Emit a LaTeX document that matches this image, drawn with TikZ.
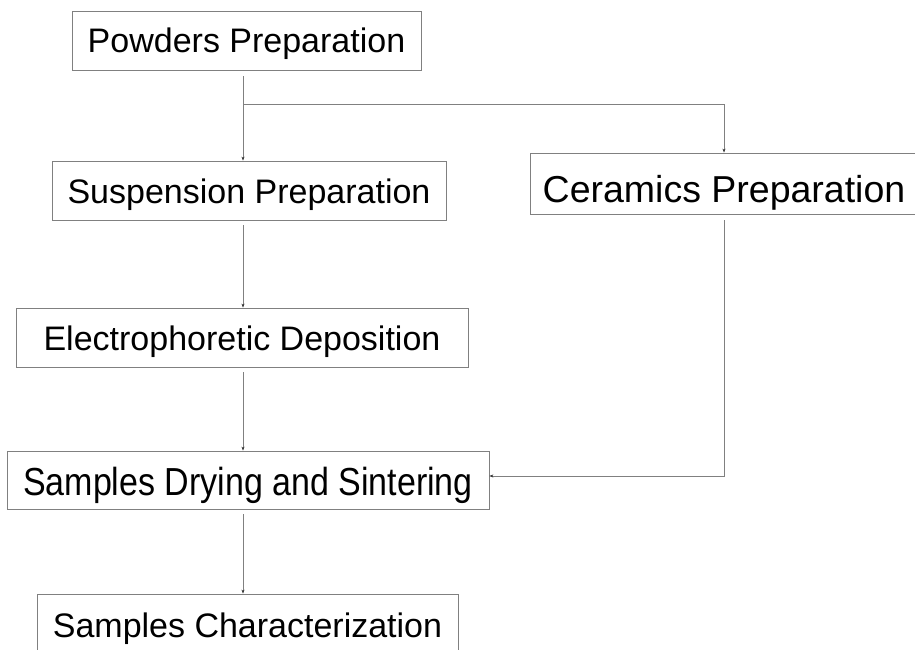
\documentclass[tikz,border=0pt]{standalone}
\usepackage{fontspec}
\setmainfont{Liberation Sans}
\usetikzlibrary{arrows.meta}
\begin{document}
\begin{tikzpicture}[x=1pt,y=-1pt,
  box/.style={draw=black!50, line width=0.8pt, minimum height=59pt, inner sep=0pt,
    text height=25pt, text depth=0pt, font=\fontsize{34}{40}\selectfont},
  conn/.style={draw=black!50, line width=0.8pt},
  arr/.style={conn, -{Stealth[length=4pt,width=3pt,color=black!80]}}]
\useasboundingbox (0,0) rectangle (915,650);
\node[box, minimum width=349pt] (P) at (246.5,40.5) {Powders Preparation};
\node[box, minimum width=394pt] (S) at (249,190.5) {Suspension Preparation};
\node[box, minimum width=388pt, minimum height=61pt, text height=37pt, font=\fontsize{37.5}{44}\selectfont] (C) at (724,183.5) {Ceramics Preparation};
\node[box, minimum width=452pt] (E) at (242,337.5) {Electrophoretic Deposition};
\node[box, minimum width=482pt, minimum height=58pt, text height=30pt] (D) at (248,480) {\scalebox{1}[1.15]{Samples Drying and Sintering}};
\node[box, minimum width=421pt, text height=27pt] (X) at (247.5,623.5) {Samples Characterization};
\coordinate (j) at (243,104);
\draw[arr, shorten <=6pt] (P.south -| j) -- (S.north -| j);
\draw[arr] (j) -| (C.north);
\draw[arr, shorten <=5pt] (S.south -| j) -- (E.north -| j);
\draw[arr, shorten <=5pt] (E.south -| j) -- (D.north -| j);
\draw[arr, shorten <=5pt] (D.south -| j) -- (X.north -| j);
\draw[arr, shorten <=6pt] (C.south) |- ([yshift=4pt]D.east);
\end{tikzpicture}
\end{document}
